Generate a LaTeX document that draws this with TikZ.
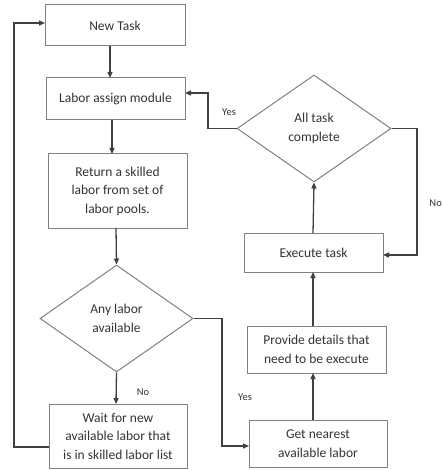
\documentclass[tikz,border=0pt]{standalone}
\usepackage{fontspec}
\setmainfont{Carlito}
\usetikzlibrary{shapes.geometric,arrows.meta,calc}
\begin{document}
\begin{tikzpicture}[x=1pt,y=-1pt,
  box/.style={draw=black!50,line width=1pt,rectangle,inner sep=1pt,align=center,font=\fontsize{13.5}{18.5}\selectfont,text=black!80},
  dia/.style={draw=black!50,line width=1pt,diamond,inner sep=0pt,align=center,font=\fontsize{13.5}{18.5}\selectfont,text=black!80},
  conn/.style={draw=black!75,line width=1.3pt,-{Triangle[length=6pt,width=5pt]}},
  lbl/.style={font=\fontsize{10.5}{12}\selectfont,text=black!80}]
\useasboundingbox (0,0) rectangle (443,470);
\node[box,minimum width=140pt,minimum height=41pt] (nt) at (115,25.5) {New Task};
\node[box,minimum width=139pt,minimum height=42pt] (la) at (115.5,99) {Labor assign module};
\node[box,minimum width=139pt,minimum height=74pt] (rs) at (117.5,191) {Return a skilled\\labor from set of\\labor pools.};
\node[dia,minimum width=153pt,minimum height=107pt] (al) at (116.5,318.5) {Any labor\\available};
\node[box,minimum width=138pt,minimum height=64pt] (wt) at (118,436) {Wait for new\\available labor that\\is in skilled labor list};
\node[box,minimum width=138pt,minimum height=47pt] (gn) at (318,443.5) {Get nearest\\available labor};
\node[box,minimum width=139pt,minimum height=47pt] (pd) at (316.5,349.5) {Provide details that\\need to be execute};
\node[box,minimum width=139pt,minimum height=39pt] (ex) at (313.5,252.5) {Execute task};
\node[dia,minimum width=154pt,minimum height=107pt] (at) at (314,128.5) {All task\\complete};
% vertical flow
\draw[conn] (110,46) -- (110,78);
\draw[conn] (112,120) -- (112,154);
\draw[conn] (116,228) -- (al.north);
\draw[conn] (al.south) -- (116,404);
\draw[conn] (gn.north -| 313,0) -- (313,373);
\draw[conn] (313,326) -- (313,272);
\draw[conn] (313,233) -- (at.south);
% loops
\coordinate (w1) at (49,447);
\coordinate (c1) at (14,447);
\coordinate (c2) at (14,23);
\draw[conn] (w1) -- (c1) -- (c2) -- (45,23);
\coordinate (d1) at (222,318.5);
\coordinate (d2) at (222,446);
\draw[conn] (al.east) -- (d1) -- (d2) -- (249,446);
\coordinate (e1) at (208,128.5);
\coordinate (e2) at (208,93);
\draw[conn] (at.west) -- (e1) -- (e2) -- (185,93);
\coordinate (f1) at (417,128.5);
\coordinate (f2) at (417,255);
\draw[conn] (at.east) -- (f1) -- (f2) -- (383,255);
% labels
\node[lbl] (lno1) at (143,392) {No};
\node[lbl] (lyes1) at (245,397) {Yes};
\node[lbl] (lyes2) at (229,112) {Yes};
\node[lbl,anchor=east,inner sep=1pt] (lno2) at (443,203) {No};
\end{tikzpicture}
\end{document}
